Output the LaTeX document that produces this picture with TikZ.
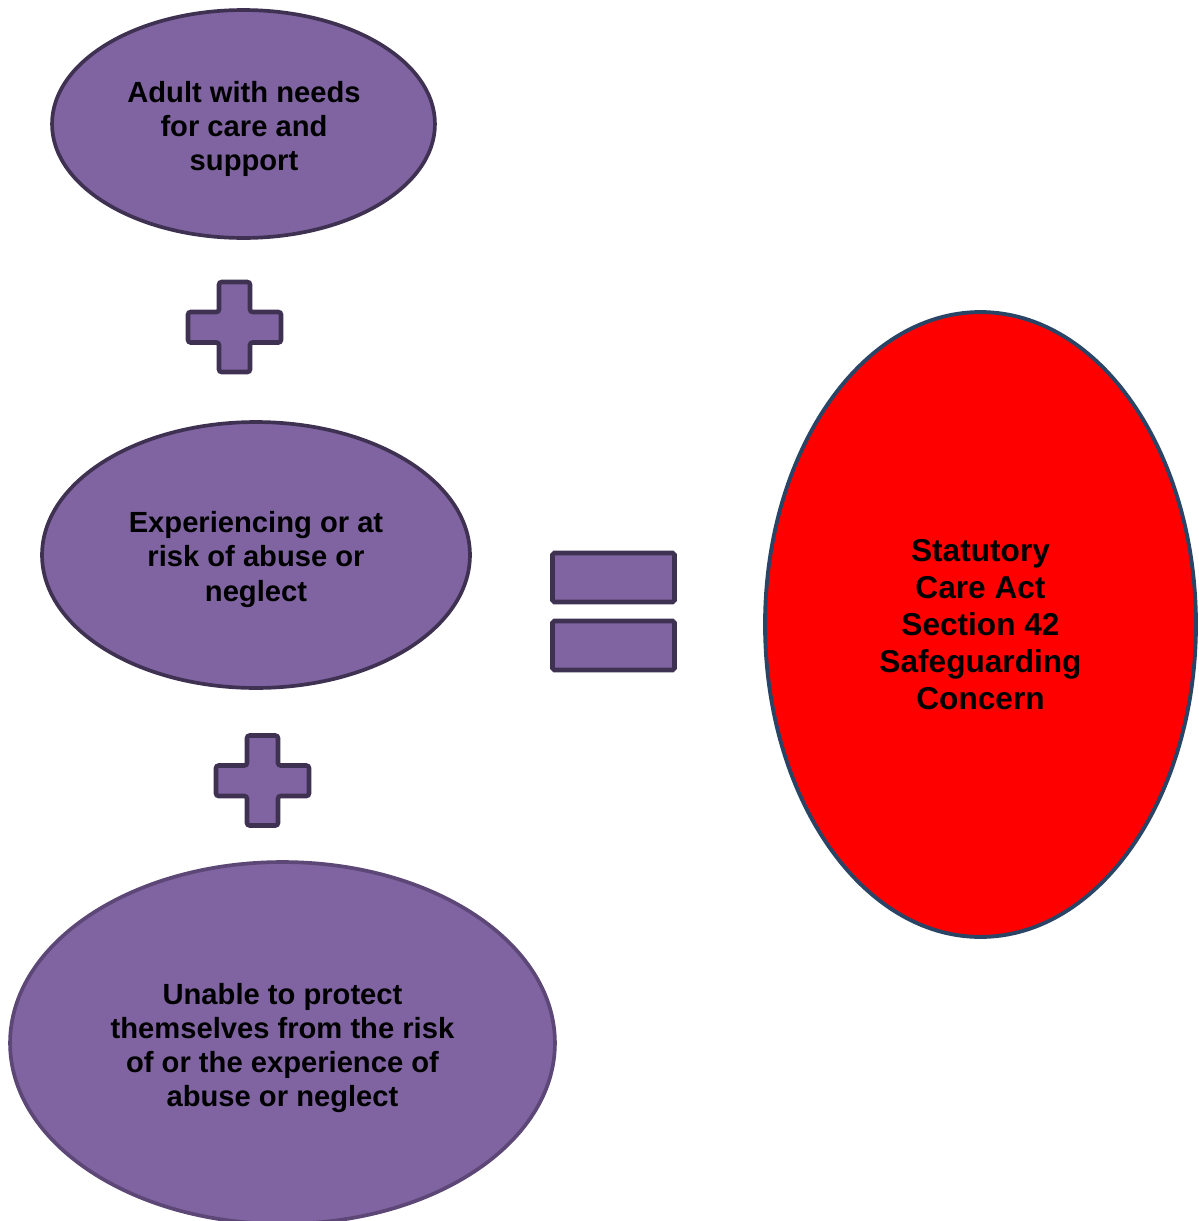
\documentclass[tikz,border=0pt]{standalone}
\usepackage{fontspec}
\setmainfont{Liberation Sans}
\usetikzlibrary{shapes.geometric}
\definecolor{pfill}{HTML}{8064A2}
\definecolor{pline}{HTML}{3F3151}
\definecolor{pline2}{HTML}{5C4776}
\definecolor{rline}{HTML}{2A4466}
\tikzset{
  blob/.style={ellipse, draw=pline, fill=pfill, line width=2.1pt, inner sep=0pt},
  btext/.style={align=center, inner sep=0pt, font=\fontsize{16.6}{19.4}\selectfont\bfseries},
  redblob/.style={ellipse, draw=rline, fill=red, line width=2.2pt, inner sep=0pt, align=center,
    font=\fontsize{18}{21}\selectfont\bfseries},
  symb/.style={draw=pline, fill=pfill, line width=2.6pt, rounded corners=1.5pt},
  eqbar/.style={rectangle, draw=pline, fill=pfill, line width=2.6pt, rounded corners=1pt, inner sep=0pt,
    minimum width=2.44cm, minimum height=0.98cm}
}
\newcommand{\plussign}[2]{%
  \draw[symb] (#1-15.5,#2-45) -- (#1+15.5,#2-45) -- (#1+15.5,#2-15) -- (#1+46.5,#2-15)
    -- (#1+46.5,#2+15.5) -- (#1+15.5,#2+15.5) -- (#1+15.5,#2+45) -- (#1-15.5,#2+45)
    -- (#1-15.5,#2+15.5) -- (#1-46.5,#2+15.5) -- (#1-46.5,#2-15) -- (#1-15.5,#2-15) -- cycle;}
\begin{document}
\begin{tikzpicture}[x=0.02cm,y=-0.02cm]
\useasboundingbox (0,0) rectangle (1198,1221);
\node[blob, minimum width=7.66cm, minimum height=4.56cm] (a) at (243.5,124) {};
\node[btext] (at) at (244,129) {Adult with needs\\for care and\\support};
\node[blob, minimum width=8.56cm, minimum height=5.32cm] (b) at (256,555) {};
\node[btext] (bt) at (256,559.5) {Experiencing or at\\risk of abuse or\\neglect};
\node[blob, draw=pline2, minimum width=10.9cm, minimum height=7.24cm] (c) at (282.5,1043) {};
\node[btext] (ct) at (282.5,1048) {Unable to protect\\themselves from the risk\\of or the experience of\\abuse or neglect};
\node[redblob, minimum width=8.62cm, minimum height=12.5cm] (d) at (980.5,624.5)
  {Statutory\\Care Act\\Section 42\\Safeguarding\\Concern};
\plussign{234.5}{327}
\plussign{262.5}{780.5}
\node[eqbar] (e1) at (613.5,577.5) {};
\node[eqbar] (e2) at (613.5,645.5) {};
\end{tikzpicture}
\end{document}
